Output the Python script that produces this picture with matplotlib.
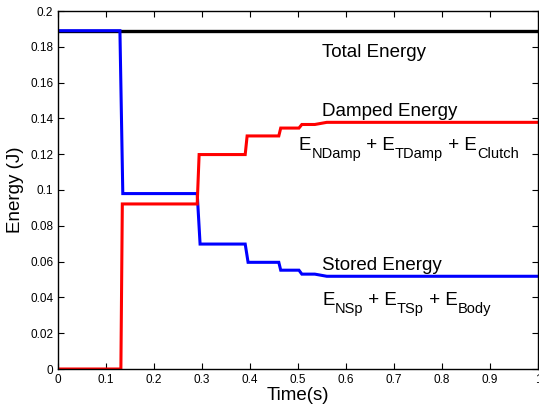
import matplotlib
matplotlib.use("Agg")
import matplotlib.pyplot as plt
from matplotlib.transforms import offset_copy

plt.rcParams['font.family'] = ['Liberation Sans', 'DejaVu Sans']

# Data
total_t = [0.0, 1.0]
total_e = [0.189, 0.189]

stored_t = [0.0, 0.129, 0.135, 0.290, 0.296, 0.390, 0.396, 0.460, 0.464, 0.502, 0.508,
            0.535, 0.560, 1.0]
stored_e = [0.189, 0.189, 0.098, 0.098, 0.0698, 0.0698, 0.0596, 0.0596, 0.0552, 0.0552,
            0.0530, 0.0530, 0.0518, 0.0518]

damped_t = [0.0, 0.131, 0.134, 0.290, 0.294, 0.390, 0.394, 0.460, 0.464, 0.502, 0.508,
            0.535, 0.560, 1.0]
damped_e = [0.0, 0.0, 0.0922, 0.0922, 0.1198, 0.1198, 0.1302, 0.1302, 0.1346, 0.1346,
            0.1366, 0.1366, 0.1378, 0.1378]

xticks = [0, 0.1, 0.2, 0.3, 0.4, 0.5, 0.6, 0.7, 0.8, 0.9, 1]
yticks = [0, 0.02, 0.04, 0.06, 0.08, 0.1, 0.12, 0.14, 0.16, 0.18, 0.2]
xticklabels = ['0', '0.1', '0.2', '0.3', '0.4', '0.5', '0.6', '0.7', '0.8', '0.9', '1']
yticklabels = ['0', '0.02', '0.04', '0.06', '0.08', '0.1', '0.12', '0.14', '0.16', '0.18', '0.2']

fig = plt.figure(figsize=(5.39, 4.07), dpi=100)
ax = fig.add_axes([58/539, 1 - 369/407, 480/539, 358/407])

ax.plot(total_t, total_e, color='black', lw=2.4, solid_capstyle='butt')
ax.plot(stored_t, stored_e, color='#0000ff', lw=2.2, solid_joinstyle='miter')
ax.plot(damped_t, damped_e, color='#ff0000', lw=2.2, solid_joinstyle='miter')

ax.set_xlim(0, 1)
ax.set_ylim(0, 0.2)
ax.set_xticks(xticks)
ax.set_xticklabels(xticklabels)
ax.set_yticks(yticks)
ax.set_yticklabels(yticklabels)
ax.tick_params(direction='in', top=True, right=True, labelsize=8.5, length=4, width=0.8)
for s in ax.spines.values():
    s.set_linewidth(1.0)

ax.set_xlabel('Time(s)', fontsize=13.5, labelpad=1)
ax.set_ylabel('Energy (J)', fontsize=13.5, labelpad=4)

fs = 13.5
sub_fs = 10.5
sub_drop = 8  # pixels

ax.text(0.55, 0.1743, 'Total Energy', fontsize=fs, va='baseline', ha='left')
ax.text(0.55, 0.1413, 'Damped Energy', fontsize=fs, va='baseline', ha='left')
ax.text(0.55, 0.0553, 'Stored Energy', fontsize=fs, va='baseline', ha='left')

renderer = fig.canvas.get_renderer()


def sub_text(x, y, pieces):
    dx = 0.0
    for txt, is_sub in pieces:
        tr = offset_copy(ax.transData, fig=fig, x=dx, y=(-sub_drop if is_sub else 0),
                         units='dots')
        t = ax.text(x, y, txt, fontsize=(sub_fs if is_sub else fs), va='baseline',
                    ha='left', transform=tr)
        bb = t.get_window_extent(renderer)
        dx += bb.width


sub_text(0.502, 0.1223, [('E', False), ('NDamp', True), (' + E', False),
                         ('TDamp', True), (' + E', False), ('Clutch', True)])
sub_text(0.55, 0.0358, [('E', False), ('NSp', True), (' + E', False),
                        ('TSp', True), (' + E', False), ('Body', True)])

fig.savefig('out.png', dpi=100)
